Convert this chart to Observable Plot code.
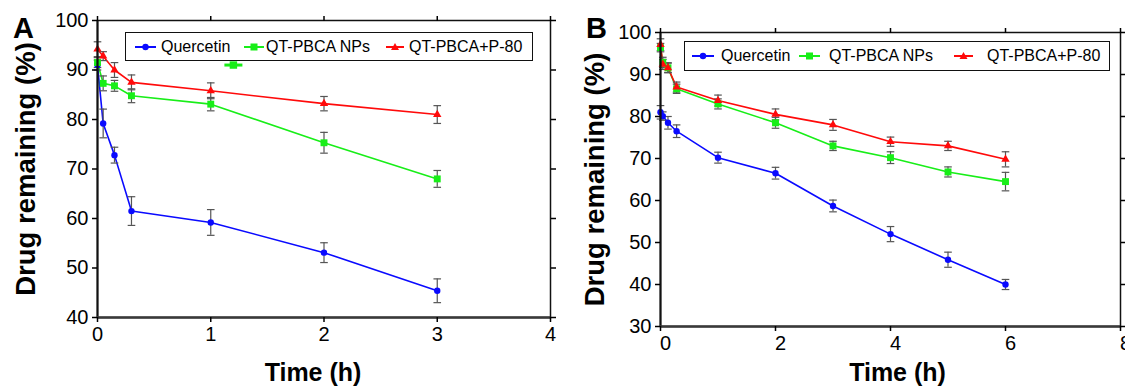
<!DOCTYPE html>
<html>
<head>
<meta charset="utf-8">
<script src="https://cdn.jsdelivr.net/npm/d3@7"></script>
<script src="https://cdn.jsdelivr.net/npm/@observablehq/plot@0.6"></script>
<style>
  html, body { margin: 0; padding: 0; background: #fff; }
  #wrap { position: relative; width: 1125px; height: 387px; overflow: hidden; font-family: "Liberation Sans", Arial, sans-serif; }
  .panel { position: absolute; top: 0; }
  .legend { position: absolute; border: 1.5px solid #111; box-sizing: border-box; background: #fff; }
  .legend .item { position: absolute; top: 0; height: 100%; display: flex; align-items: center; font-size: 16px; color: #000; white-space: nowrap; }
  .legend svg { position: absolute; }
</style>
</head>
<body>
<div id="wrap"></div>
<script>
// ---------- data ----------
const seriesNames = ["Quercetin", "QT-PBCA NPs", "QT-PBCA+P-80"];
const seriesColors = ["#0a0aff", "#18ee18", "#ff0a0a"];

// Panel A
const timesA = [0, 0.05, 0.15, 0.3, 1, 2, 3];
const quercetinA = [91.0, 79.2, 72.8, 61.5, 59.2, 53.1, 45.4];
const quercetinAErr = [1.0, 2.9, 1.6, 2.9, 2.6, 2.0, 2.4];
const npsA = [91.5, 87.3, 86.8, 84.8, 83.1, 75.3, 68.0];
const npsAErr = [1.0, 1.5, 1.1, 1.4, 1.35, 2.1, 1.7];
const p80A = [94.2, 92.8, 90.0, 87.5, 85.8, 83.2, 81.0];
const p80AErr = [1.5, 0.9, 1.5, 1.5, 1.6, 1.45, 1.8];
const strayTimeA = [1.2];     // stray legend-like marker in the original figure
const strayValueA = [91.0];

// Panel B
const timesB = [0, 0.04, 0.13, 0.28, 1, 2, 3, 4, 5, 6];
const quercetinB = [81.0, 80.1, 78.5, 76.5, 70.2, 66.5, 58.7, 52.0, 45.9, 40.0];
const quercetinBErr = [1.6, 1.0, 1.5, 1.5, 1.3, 1.4, 1.4, 1.8, 1.8, 1.2];
const npsB = [96.4, 92.9, 91.6, 86.6, 83.0, 78.5, 73.0, 70.2, 66.8, 64.5];
const npsBErr = [1.0, 1.2, 1.2, 1.1, 1.2, 1.3, 1.1, 1.4, 1.2, 2.2];
const p80B = [97.1, 92.4, 91.6, 87.0, 83.8, 80.5, 78.0, 74.0, 73.0, 69.8];
const p80BErr = [1.4, 1.2, 1.1, 1.2, 1.3, 1.3, 1.3, 1.1, 1.1, 1.8];

// Axes
const xDomainA = [0, 4], xTicksA = [0, 1, 2, 3, 4];
const yDomainA = [40, 100], yTicksA = [40, 50, 60, 70, 80, 90, 100];
const xDomainB = [0, 8], xTicksB = [0, 2, 4, 6, 8];
const yDomainB = [30, 100], yTicksB = [30, 40, 50, 60, 70, 80, 90, 100];

const yTitle = "Drug remaining (%)";
const xTitle = "Time (h)";

// ---------- build tables ----------
function table(times, vals, errs) {
  const rows = [];
  vals.forEach((arr, s) => arr.forEach((v, i) => rows.push({t: times[i], v, e: errs[s][i], series: seriesNames[s]})));
  return rows;
}
const rowsA = table(timesA, [quercetinA, npsA, p80A], [quercetinAErr, npsAErr, p80AErr]);
const rowsB = table(timesB, [quercetinB, npsB, p80B], [quercetinBErr, npsBErr, p80BErr]);
const strayA = strayTimeA.map((t, i) => ({t, v: strayValueA[i], series: seriesNames[1]}));

const capSymbol = { draw(ctx, size) { const r = Math.sqrt(size / Math.PI); ctx.moveTo(-r, 0); ctx.lineTo(r, 0); } };
const symbolsBy = {"Quercetin": ["circle", 3.2], "QT-PBCA NPs": ["square", 3.9], "QT-PBCA+P-80": ["triangle", 3.1]};
const fmt = d => String(d);

function panel(rows, opts) {
  const marks = [
    Plot.line(rows, {x: "t", y: "v", z: "series", stroke: "series", strokeWidth: 1.6}),
    Plot.ruleX(rows, {x: "t", y1: d => d.v - d.e, y2: d => d.v + d.e, stroke: "#555", strokeWidth: 1.2}),
    Plot.dot(rows, {x: "t", y: d => d.v + d.e, symbol: capSymbol, r: 3.8, stroke: "#555", strokeWidth: 1.2, fill: "none"}),
    Plot.dot(rows, {x: "t", y: d => d.v - d.e, symbol: capSymbol, r: 3.8, stroke: "#555", strokeWidth: 1.2, fill: "none"}),
  ];
  for (const name of seriesNames) {
    const [sym, r] = symbolsBy[name];
    marks.push(Plot.dot(rows.filter(d => d.series === name), {x: "t", y: "v", fill: "series", symbol: sym, r, stroke: "none"}));
  }
  if (opts.extra) marks.push(...opts.extra);
  marks.push(
    Plot.frame({stroke: "#111", strokeWidth: 1.5}),
    Plot.ruleX([opts.xDomain[0]], {stroke: "#111", strokeWidth: 2}),
    Plot.ruleY([opts.yDomain[0]], {stroke: "#3a3a3a", strokeWidth: 2.5}),
    Plot.axisY({anchor: "left", ticks: opts.yTicks, tickSize: 5, tickPadding: 4, fontSize: 20, label: null, strokeWidth: 1.5, tickFormat: fmt}),
    Plot.axisY({anchor: "right", ticks: opts.yTicks, tickSize: 5, tickFormat: () => "", label: null, strokeWidth: 1.5}),
    Plot.axisX({anchor: "top", ticks: opts.xTicks, tickSize: 5, tickFormat: () => "", label: null, strokeWidth: 1.5}),
    Plot.axisX({anchor: "bottom", ticks: opts.xTicks, tickSize: 5, tickFormat: () => "", label: null, strokeWidth: 1.5}),
    Plot.axisX({anchor: "bottom", ticks: opts.xTicks, tickSize: 0, tickPadding: 9, fontSize: 20, label: null, dx: opts.xLabelDx, tickFormat: fmt}),
    Plot.text([xTitle], {text: d => d, frameAnchor: "bottom", dx: opts.xTitleDx, dy: opts.xTitleDy, fontSize: 25, fontWeight: "bold", textAnchor: "middle", lineAnchor: "middle"}),
    Plot.text([yTitle], {text: d => d, frameAnchor: "left", rotate: -90, dx: opts.yTitleDx, fontSize: 27.5, fontWeight: "bold", textAnchor: "middle", lineAnchor: "middle"}),
    Plot.text([opts.letter], {text: d => d, frameAnchor: "top-left", dx: opts.letterDx, dy: opts.letterDy, fontSize: 29, fontWeight: "bold", textAnchor: "middle", lineAnchor: "middle"})
  );
  return Plot.plot({
    width: opts.width, height: 387,
    marginLeft: opts.ml, marginRight: opts.mr, marginTop: opts.mt, marginBottom: opts.mb,
    x: {domain: opts.xDomain},
    y: {domain: opts.yDomain},
    color: {domain: seriesNames, range: seriesColors},
    style: {fontFamily: '"Liberation Sans", Arial, sans-serif', color: "#000", background: "transparent", overflow: "visible"},
    marks
  });
}

const wrap = document.getElementById("wrap");

const plotA = panel(rowsA, {
  width: 560, ml: 97, mr: 10, mt: 20, mb: 70,
  xDomain: xDomainA, yDomain: yDomainA, xTicks: xTicksA, yTicks: yTicksA,
  xLabelDx: 0, xTitleDx: -11, xTitleDy: 55, yTitleDx: -71, letter: "A", letterDx: -74, letterDy: 8,
  extra: [
    Plot.dot(strayA, {x: "t", y: "v", symbol: capSymbol, r: 9, stroke: "series", strokeWidth: 3}),
    Plot.dot(strayA, {x: "t", y: "v", symbol: "square", r: 4.2, fill: "series"})
  ]
});
plotA.classList.add("panel"); plotA.style.left = "0px";
wrap.appendChild(plotA);

const plotB = panel(rowsB, {
  width: 565, ml: 100, mr: 5, mt: 32, mb: 61,
  xDomain: xDomainB, yDomain: yDomainB, xTicks: xTicksB, yTicks: yTicksB,
  xLabelDx: 5, xTitleDx: 7, xTitleDy: 46, yTitleDx: -65, letter: "B", letterDx: -64, letterDy: -4
});
plotB.classList.add("panel"); plotB.style.left = "560px";
wrap.appendChild(plotB);

// ---------- legends ----------
const markerSvg = (i, w) => {
  const c = seriesColors[i], h = 12, cx = w / 2, cy = h / 2;
  let m;
  if (i === 0) m = `<circle cx="${cx}" cy="${cy}" r="3.2" fill="${c}"/>`;
  else if (i === 1) m = `<rect x="${cx - 3.5}" y="${cy - 3.5}" width="7" height="7" fill="${c}"/>`;
  else m = `<path d="M${cx},${cy - 4} L${cx + 4},${cy + 3} L${cx - 4},${cy + 3} Z" fill="${c}"/>`;
  return `<svg width="${w}" height="${h}" style="left:0;top:50%;margin-top:-${h / 2}px"><line x1="0" y1="${cy}" x2="${w}" y2="${cy}" stroke="${c}" stroke-width="2"/>${m}</svg>`;
};
function legend(box, items) {
  const div = document.createElement("div");
  div.className = "legend";
  Object.assign(div.style, {left: box[0] + "px", top: box[1] + "px", width: box[2] + "px", height: box[3] + "px"});
  items.forEach(([sx, sw, tx], i) => {
    const s = document.createElement("div");
    s.className = "item";
    s.style.left = (sx - box[0]) + "px";
    s.style.width = sw + "px";
    s.innerHTML = markerSvg(i, sw);
    div.appendChild(s);
    const t = document.createElement("div");
    t.className = "item";
    t.style.left = (tx - box[0]) + "px";
    t.textContent = seriesNames[i];
    div.appendChild(t);
  });
  wrap.appendChild(div);
}
legend([125, 32, 408, 29], [[134, 21, 160], [243, 20, 265], [385, 18, 408]]);
legend([684, 41, 426, 30], [[691, 22, 720], [798, 21, 828], [953, 19, 986]]);
</script>
</body>
</html>
